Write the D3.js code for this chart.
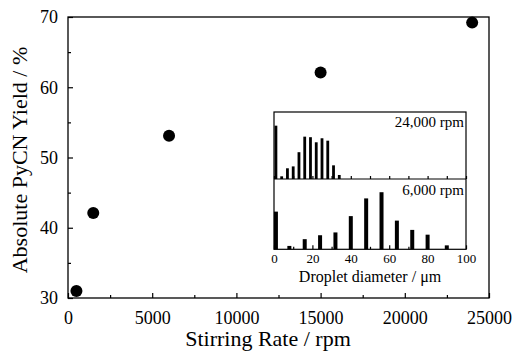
<!DOCTYPE html>
<html>
<head>
<meta charset="utf-8">
<script src="https://cdn.jsdelivr.net/npm/d3@7"></script>
<style>
  body { margin: 0; background: #fff; }
  svg text { font-family: "Liberation Serif", "Times New Roman", serif; fill: #000; }
</style>
</head>
<body>
<div id="chart"></div>
<script>
// main scatter: yield vs stirring rate
const rates = [500, 1500, 6000, 15000, 24000]
const yields = [31.0, 42.1, 53.1, 62.1, 69.2]
const xTicks = [0, 5000, 10000, 15000, 20000, 25000]
const xMinor = [2500, 7500, 12500, 17500, 22500]
const yTicks = [30, 40, 50, 60, 70]
const yMinor = [35, 45, 55, 65]

// inset: droplet size distributions
const dia24000 = [1, 4, 7, 10, 13, 16, 19, 22, 25, 28, 31, 34]
const freq24000 = [19.9, 1.0, 4.0, 4.7, 10.0, 15.8, 15.6, 13.7, 15.2, 14.3, 5.1, 1.5]
const dia6000 = [1, 8, 16, 24, 32, 40, 48, 56, 64, 72, 80, 90]
const freq6000 = [13.4, 1.2, 3.6, 5.0, 6.0, 11.8, 18.1, 20.3, 10.2, 6.9, 5.2, 1.4]
const insetTicks = [0, 20, 40, 60, 80, 100]
const insetMinor = [10, 30, 50, 70, 90]

const width = 514
const height = 352
const serif = "'Liberation Serif', 'Times New Roman', serif"

const svg = d3.select("#chart")
    .append("svg")
    .attr("width", width)
    .attr("height", height)
    .attr("font-family", serif)

const x = d3.scaleLinear().domain([0, 25000]).range([68, 489])
const y = d3.scaleLinear().domain([30, 70]).range([298, 17])

// frame
svg.append("rect")
    .attr("x", 68).attr("y", 17)
    .attr("width", 489 - 68).attr("height", 298 - 17)
    .attr("fill", "none").attr("stroke", "#000").attr("stroke-width", 1.3)

const styleAxis = function (g) {
    g.attr("font-family", serif)
    g.select(".domain").remove()
    g.selectAll("line").attr("stroke", "#000").attr("stroke-width", 1.2)
}

svg.append("g")
    .attr("transform", "translate(0,298)")
    .call(d3.axisBottom(x).tickValues(xTicks).tickSize(-5).tickPadding(13).tickFormat(d3.format("d")))
    .call(styleAxis)
    .call(g => g.selectAll("text").attr("font-size", 18))

svg.append("g")
    .attr("transform", "translate(0,298)")
    .call(d3.axisBottom(x).tickValues(xMinor).tickSize(-3).tickFormat(""))
    .call(styleAxis)

svg.append("g")
    .attr("transform", "translate(68,0)")
    .call(d3.axisLeft(y).tickValues(yTicks).tickSize(-5).tickPadding(10))
    .call(styleAxis)
    .call(g => g.selectAll("text").attr("font-size", 18))

svg.append("g")
    .attr("transform", "translate(68,0)")
    .call(d3.axisLeft(y).tickValues(yMinor).tickSize(-3).tickFormat(""))
    .call(styleAxis)

svg.append("text")
    .attr("x", 268).attr("y", 346)
    .attr("text-anchor", "middle")
    .attr("font-size", 22)
    .text("Stirring Rate / rpm")

svg.append("text")
    .attr("transform", "translate(27,160) rotate(-90)")
    .attr("text-anchor", "middle")
    .attr("font-size", 22)
    .text("Absolute PyCN Yield / %")

// inset
const ix = d3.scaleLinear().domain([0, 100]).range([274, 466])
const yTop = d3.scaleLinear().domain([0, 25]).range([179, 112])
const yBot = d3.scaleLinear().domain([0, 25]).range([249.3, 179])

svg.append("rect")
    .attr("x", 274).attr("y", 112)
    .attr("width", 466 - 274).attr("height", 249.3 - 112)
    .attr("fill", "#fff").attr("stroke", "#000").attr("stroke-width", 1.2)

svg.append("line")
    .attr("x1", 274).attr("x2", 466)
    .attr("y1", 179).attr("y2", 179)
    .attr("stroke", "#000").attr("stroke-width", 1.2)

svg.append("g")
    .selectAll("rect")
    .data(dia24000)
    .enter()
    .append("rect")
    .attr("x", (d) => ix(d) - 1.4)
    .attr("width", 2.8)
    .attr("y", (d, i) => yTop(freq24000[i]))
    .attr("height", (d, i) => yTop(0) - yTop(freq24000[i]))
    .attr("fill", "#000")

svg.append("g")
    .selectAll("rect")
    .data(dia6000)
    .enter()
    .append("rect")
    .attr("x", (d) => ix(d) - 2)
    .attr("width", 4)
    .attr("y", (d, i) => yBot(freq6000[i]))
    .attr("height", (d, i) => yBot(0) - yBot(freq6000[i]))
    .attr("fill", "#000")

svg.append("g")
    .attr("transform", "translate(0,249.3)")
    .call(d3.axisBottom(ix).tickValues(insetTicks).tickSize(-4).tickPadding(4))
    .call(styleAxis)
    .call(g => g.selectAll("text").attr("font-size", 13))

svg.append("g")
    .attr("transform", "translate(0,249.3)")
    .call(d3.axisBottom(ix).tickValues(insetMinor).tickSize(-2.5).tickFormat(""))
    .call(styleAxis)

svg.append("g")
    .attr("transform", "translate(0,179)")
    .call(d3.axisBottom(ix).tickValues(insetTicks.concat(insetMinor)).tickSize(-3).tickFormat(""))
    .call(styleAxis)

svg.append("text")
    .attr("x", 464).attr("y", 127)
    .attr("text-anchor", "end")
    .attr("font-size", 15)
    .text("24,000 rpm")

svg.append("text")
    .attr("x", 464).attr("y", 195)
    .attr("text-anchor", "end")
    .attr("font-size", 15)
    .text("6,000 rpm")

svg.append("text")
    .attr("x", 370).attr("y", 282)
    .attr("text-anchor", "middle")
    .attr("font-size", 16)
    .text("Droplet diameter / μm")

// points
svg.append("g")
    .selectAll("circle")
    .data(rates)
    .enter()
    .append("circle")
    .attr("cx", (d) => x(d))
    .attr("cy", (d, i) => y(yields[i]))
    .attr("r", 6)
    .attr("fill", "#000")
</script>
</body>
</html>
